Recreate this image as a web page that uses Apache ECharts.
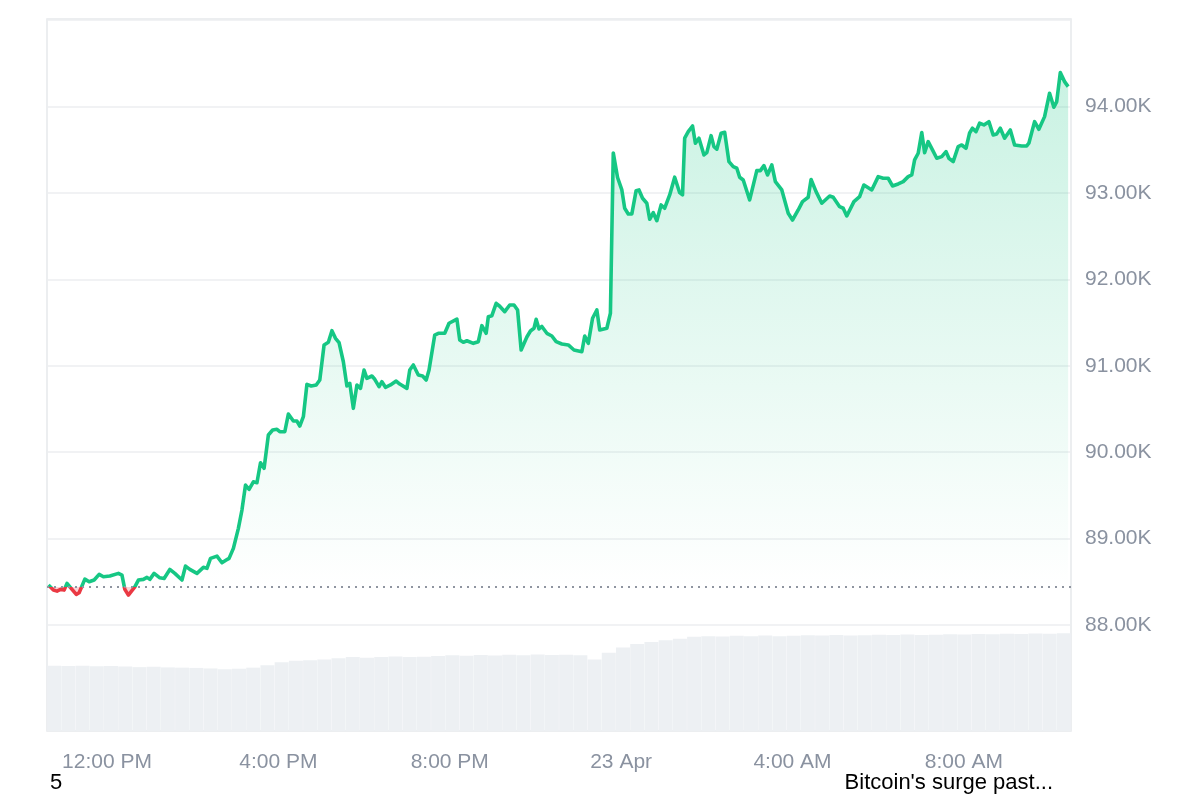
<!DOCTYPE html>
<html>
<head>
<meta charset="utf-8">
<style>html,body{margin:0;padding:0;background:#fff;}#c{width:1200px;height:800px;}</style>
<script src="https://cdn.jsdelivr.net/npm/echarts@6/dist/echarts.min.js"></script>
</head>
<body>
<div id="c"></div>
<script>
// Time in minutes since 00:00, 22 Apr
const timesMin = [638,645,650,655,660,664,671,677,681,689,695,702,709,715,724,736,741,745,750,759,764,771,776,780,786,794,800,808,815,825,830,836,846,855,860,865,874,881,887,891,897,904,909,914,919,925,930,935,940,946,952,958,962,969,974,981,986,990,995,1000,1006,1013,1018,1024,1030,1035,1040,1045,1051,1056,1060,1065,1070,1075,1080,1084,1091,1095,1101,1105,1110,1117,1125,1130,1140,1144,1149,1156,1162,1167,1171,1179,1184,1193,1199,1210,1214,1219,1224,1233,1240,1245,1251,1254,1259,1265,1270,1277,1284,1290,1295,1300,1308,1313,1318,1321,1325,1329,1336,1343,1349,1357,1366,1374,1385,1389,1394,1400,1406,1410,1420,1425,1429,1435,1441,1445,1450,1455,1461,1465,1470,1476,1480,1485,1490,1496,1501,1508,1515,1522,1526,1529,1534,1540,1544,1549,1556,1560,1566,1570,1574,1580,1585,1591,1597,1602,1606,1611,1620,1630,1635,1640,1645,1651,1656,1665,1674,1680,1688,1694,1702,1706,1713,1721,1732,1737,1746,1751,1756,1766,1774,1780,1791,1800,1807,1814,1820,1828,1835,1842,1847,1851,1856,1861,1865,1870,1876,1882,1889,1895,1899,1905,1912,1917,1923,1928,1932,1937,1942,1948,1955,1961,1966,1971,1977,1985,1991,2001,2008,2011,2019,2025,2033,2040,2046,2050,2055,2061,2066];
const prices = [88462,88404,88392,88412,88404,88482,88412,88354,88373,88531,88500,88520,88586,88558,88566,88597,88578,88412,88346,88442,88520,88528,88551,88528,88597,88546,88539,88643,88597,88520,88682,88643,88597,88667,88655,88771,88797,88720,88751,88771,88887,89118,89330,89619,89570,89657,89646,89877,89813,90198,90256,90264,90236,90236,90441,90360,90360,90302,90410,90785,90765,90777,90835,91240,91271,91405,91317,91266,91046,90765,90796,90507,90777,90738,90950,90854,90881,90843,90757,90815,90750,90777,90823,90788,90738,90950,91008,90892,90881,90835,90950,91355,91375,91375,91491,91540,91297,91271,91289,91259,91278,91463,91375,91567,91579,91722,91688,91625,91703,91703,91645,91182,91332,91402,91433,91537,91425,91454,91375,91344,91278,91251,91240,91182,91162,91344,91259,91549,91645,91413,91433,91607,93462,93178,93034,92822,92756,92756,93025,93034,92938,92880,92694,92771,92678,92860,92822,92976,93181,93002,92976,93632,93708,93774,93574,93632,93439,93465,93662,93535,93505,93690,93701,93361,93303,93285,93181,93149,92918,93257,93257,93315,93207,93323,93130,93034,92764,92686,92802,92898,92949,93155,93014,92880,92964,92949,92840,92822,92733,92898,92956,93091,93034,93188,93169,93169,93080,93103,93130,93188,93207,93381,93458,93697,93465,93593,93497,93400,93419,93477,93400,93361,93535,93554,93516,93693,93748,93708,93806,93786,93824,93670,93682,93748,93632,93728,93554,93543,93543,93574,93824,93736,93882,94153,93991,94056,94391,94287,94229];
const baselinePrice = 88440;
// Volume (arbitrary units, B), 20-minute buckets centred from 10:50
const volumeStartMin = 650;
const volumeStepMin = 20;
const volumes = [24.6,24.5,24.6,24.4,24.5,24.3,24.1,24.2,24.0,23.9,23.8,23.6,23.3,23.5,23.9,24.8,25.9,26.5,26.7,27.0,27.5,27.9,27.6,27.9,28.1,27.9,28.0,28.3,28.6,28.4,28.7,28.5,28.8,28.6,28.9,28.7,28.8,28.6,27.0,29.5,31.5,32.8,33.6,34.2,34.8,35.6,35.8,35.7,35.9,35.8,36.0,35.8,35.9,36.1,36.0,36.2,36.0,36.1,36.3,36.2,36.4,36.2,36.3,36.5,36.4,36.6,36.5,36.7,36.6,36.8,36.7,36.9];
const xTickValues = [720, 960, 1200, 1440, 1680, 1920];
const xTickLabels = ['12:00 PM', '4:00 PM', '8:00 PM', '23 Apr', '4:00 AM', '8:00 AM'];
const captionLeft = '5';
const captionRight = "Bitcoin's surge past...";

const X_MIN = 636, X_MAX = 2070;
const GREEN = '#16c784', RED = '#ea3943';
const FONT = '"Liberation Sans", Arial, sans-serif';

const n = Math.min(timesMin.length, prices.length);
const lineData = [], upData = [], downData = [];
for (let i = 0; i < n; i++) {
  lineData.push([timesMin[i], prices[i]]);
  upData.push([timesMin[i], Math.max(prices[i], baselinePrice)]);
  downData.push([timesMin[i], Math.min(prices[i], baselinePrice)]);
}
const volData = volumes.map((v, i) => [volumeStartMin + i * volumeStepMin, v]);
const volMin = volumeStartMin - volumeStepMin / 2;
const volMax = volumeStartMin + (volumes.length - 0.5) * volumeStepMin;

const chart = echarts.init(document.getElementById('c'), null, {renderer: 'canvas'});
chart.setOption({
  animation: false,
  backgroundColor: '#fff',
  grid: [
    {left: 47, right: 129, top: 20, bottom: 175},
    {left: 47, right: 129, top: 625, bottom: 69}
  ],
  graphic: [
    {type: 'rect', z: -10, silent: true, shape: {x: 47, y: 19, width: 1024, height: 712},
     style: {fill: 'none', stroke: '#e6e9ec', lineWidth: 1.5}},
    {type: 'text', left: 50, top: 772, z: 10, style: {text: captionLeft, font: '22px ' + FONT, fill: '#000'}},
    {type: 'text', right: 147, top: 772, z: 10, style: {text: captionRight, font: '22px ' + FONT, fill: '#000'}}
  ],
  xAxis: [
    {type: 'value', gridIndex: 0, min: X_MIN, max: X_MAX, show: false},
    {type: 'value', gridIndex: 1, min: X_MIN, max: X_MAX, position: 'bottom',
     axisLine: {show: false}, axisTick: {show: false}, splitLine: {show: false},
     axisLabel: {
       customValues: xTickValues, margin: 21, color: '#8a92a0', fontSize: 21, fontFamily: FONT,
       formatter: function (v) { const k = xTickValues.indexOf(Math.round(v)); return k >= 0 ? xTickLabels[k] : ''; }
     }},
    {type: 'value', gridIndex: 1, min: volMin, max: volMax, position: 'top', show: false}
  ],
  yAxis: [
    {type: 'value', gridIndex: 0, position: 'right', min: 88000, max: 95000, interval: 1000,
     axisLine: {show: false}, axisTick: {show: false},
     splitLine: {lineStyle: {color: '#eceef1', width: 1.5}},
     axisLabel: {margin: 14, color: '#8a92a0', fontSize: 21, fontFamily: FONT,
       formatter: function (v) { return v >= 95000 ? '' : (v / 1000).toFixed(2) + 'K'; }}},
    {type: 'value', gridIndex: 1, min: 0, max: 40, show: false}
  ],
  visualMap: {
    show: false, type: 'piecewise', seriesIndex: 2, dimension: 1,
    pieces: [{gte: 0, lte: baselinePrice, color: RED}, {gt: baselinePrice, lte: 1000000, color: GREEN}],
    outOfRange: {color: GREEN}
  },
  series: [
    {type: 'line', xAxisIndex: 0, yAxisIndex: 0, data: upData, symbol: 'none', silent: true,
     lineStyle: {width: 0, opacity: 0},
     areaStyle: {origin: baselinePrice, color: new echarts.graphic.LinearGradient(0, 0, 0, 1, [
       {offset: 0, color: 'rgba(22,199,132,0.33)'}, {offset: 1, color: 'rgba(22,199,132,0.0)'}])},
     z: 1},
    {type: 'line', xAxisIndex: 0, yAxisIndex: 0, data: downData, symbol: 'none', silent: true,
     lineStyle: {width: 0, opacity: 0},
     areaStyle: {origin: baselinePrice, color: 'rgba(234,57,67,0.3)'}, z: 1},
    {type: 'line', xAxisIndex: 0, yAxisIndex: 0, data: lineData, symbol: 'none',
     lineStyle: {width: 3.6, join: 'round'}, z: 3,
     markLine: {symbol: 'none', silent: true, label: {show: false},
       lineStyle: {type: [2, 5], color: '#8f95a0', width: 2},
       data: [{yAxis: baselinePrice}]}},
    {type: 'bar', xAxisIndex: 2, yAxisIndex: 1, data: volData, barWidth: 14, clip: true,
     itemStyle: {color: '#edf0f3'}, silent: true, z: 2}
  ]
});
</script>
</body>
</html>
